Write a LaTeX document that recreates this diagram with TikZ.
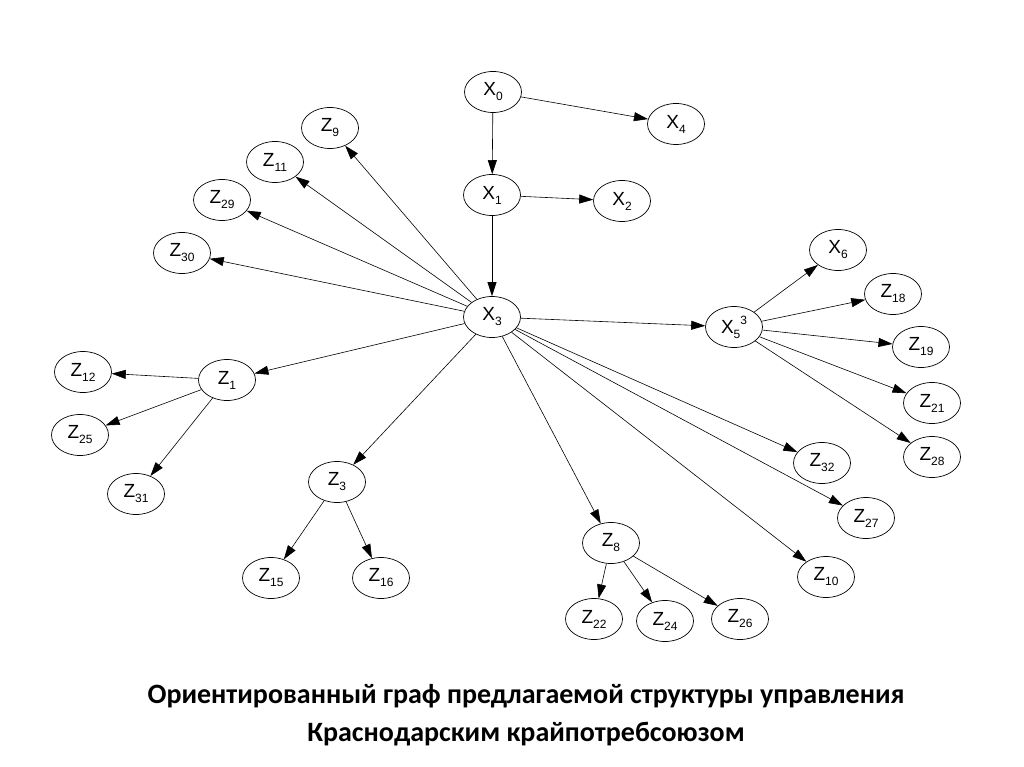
\documentclass[tikz,border=0pt]{standalone}
\usepackage{fontspec}
\setmainfont{Liberation Sans}
\newfontfamily\capfont{Carlito}
\usetikzlibrary{arrows.meta,shapes.geometric}
\newcommand{\vsub}[2]{#1\raisebox{-0.5ex}{\fontsize{12}{12}\selectfont #2}}
\tikzset{
  gnode/.style={ellipse, draw=black, line width=0.7pt, minimum width=57pt,
                minimum height=41pt, inner sep=0pt, font=\fontsize{19}{19}\selectfont},
  garc/.style ={-{Triangle[length=14pt, width=9pt]}, line width=0.6pt, black},
}
\begin{document}
\begin{tikzpicture}[x=1pt, y=-1pt]
\useasboundingbox (0,0) rectangle (1024,767);
% top chain
\node[gnode] (x0) at (493, 92)  {\vsub{X}{0}};
\node[gnode] (x4) at (676,124)  {\vsub{X}{4}};
\node[gnode] (x1) at (492,195)  {\vsub{X}{1}};
\node[gnode] (x2) at (622,201)  {\vsub{X}{2}};
\node[gnode] (x3) at (492,317)  {\vsub{X}{3}};
% upper left fan
\node[gnode] (z9)  at (330,128) {\vsub{Z}{9}};
\node[gnode] (z11) at (275,162) {\vsub{Z}{11}};
\node[gnode] (z29) at (222,200) {\vsub{Z}{29}};
\node[gnode] (z30) at (182,253) {\vsub{Z}{30}};
% right group
\node[gnode] (x5) at (734,327) {\vsub{X}{5}\raisebox{0.9ex}{\fontsize{12}{12}\selectfont 3}};
\node[gnode] (x6)  at (838,250) {\vsub{X}{6}};
\node[gnode] (z18) at (893,294) {\vsub{Z}{18}};
\node[gnode] (z19) at (921,347) {\vsub{Z}{19}};
\node[gnode] (z21) at (932,403) {\vsub{Z}{21}};
\node[gnode] (z28) at (932,457) {\vsub{Z}{28}};
\node[gnode] (z32) at (822,463) {\vsub{Z}{32}};
\node[gnode] (z27) at (866,518) {\vsub{Z}{27}};
\node[gnode] (z10) at (826,577) {\vsub{Z}{10}};
% left group
\node[gnode] (z1)  at (227,380) {\vsub{Z}{1}};
\node[gnode] (z12) at ( 83,372) {\vsub{Z}{12}};
\node[gnode] (z25) at ( 80,435) {\vsub{Z}{25}};
\node[gnode] (z31) at (136,494) {\vsub{Z}{31}};
% bottom groups
\node[gnode] (z3)  at (337,482) {\vsub{Z}{3}};
\node[gnode] (z15) at (271,578) {\vsub{Z}{15}};
\node[gnode] (z16) at (381,578) {\vsub{Z}{16}};
\node[gnode] (z8)  at (611,543) {\vsub{Z}{8}};
\node[gnode] (z22) at (594,619) {\vsub{Z}{22}};
\node[gnode] (z24) at (665,621) {\vsub{Z}{24}};
\node[gnode] (z26) at (740,619) {\vsub{Z}{26}};
% arcs
\draw[garc] (x0) -- (x1);
\draw[garc] (x0) -- (x4);
\draw[garc] (x1) -- (x2);
\draw[garc] (x1) -- (x3);
\foreach \t in {z9,z11,z29,z30,z1,z3,z8,z10,z27,z32,x5}
  \draw[garc] (x3) -- (\t);
\foreach \t in {x6,z18,z19,z21,z28}
  \draw[garc] (x5) -- (\t);
\foreach \t in {z12,z25,z31}
  \draw[garc] (z1) -- (\t);
\foreach \t in {z15,z16}
  \draw[garc] (z3) -- (\t);
\foreach \t in {z22,z24,z26}
  \draw[garc] (z8) -- (\t);
% caption
\node[font=\capfont\bfseries\fontsize{28}{38}\selectfont, align=center] (cap) at (526,715)
  {Ориентированный граф предлагаемой структуры управления\\Краснодарским крайпотребсоюзом};
\end{tikzpicture}
\end{document}
